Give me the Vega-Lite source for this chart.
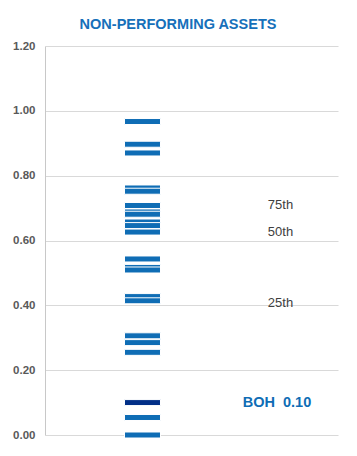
{
  "$schema": "https://vega.github.io/schema/vega-lite/v6.json",
  "width": 293,
  "height": 389,
  "autosize": {"type": "none"},
  "padding": {"left": 45, "top": 46, "right": 19, "bottom": 21},
  "background": "white",
  "title": {"text": "NON-PERFORMING ASSETS", "font": "Liberation Sans", "fontSize": 14.5, "fontWeight": "bold", "color": "#1670ba", "anchor": "middle", "dx": -13.5, "offset": 8},
  "config": {"view": {"stroke": null}, "font": "Liberation Sans"},
  "data": {"values": [
    {"bank": "Peer", "npa": 0.967},
    {"bank": "Peer", "npa": 0.897},
    {"bank": "Peer", "npa": 0.870},
    {"bank": "Peer", "npa": 0.762},
    {"bank": "Peer", "npa": 0.752},
    {"bank": "Peer", "npa": 0.708},
    {"bank": "Peer", "npa": 0.688},
    {"bank": "Peer", "npa": 0.681},
    {"bank": "Peer", "npa": 0.657},
    {"bank": "Peer", "npa": 0.646},
    {"bank": "Peer", "npa": 0.626},
    {"bank": "Peer", "npa": 0.543},
    {"bank": "Peer", "npa": 0.517},
    {"bank": "Peer", "npa": 0.509},
    {"bank": "Peer", "npa": 0.427},
    {"bank": "Peer", "npa": 0.414},
    {"bank": "Peer", "npa": 0.306},
    {"bank": "Peer", "npa": 0.285},
    {"bank": "Peer", "npa": 0.255},
    {"bank": "Peer", "npa": 0.054},
    {"bank": "Peer", "npa": 0.0},
    {"bank": "BOH", "npa": 0.10}
  ]},
  "layer": [
    {
      "mark": {"type": "tick", "orient": "horizontal", "thickness": 6, "size": 36, "stroke": "white", "strokeWidth": 1, "opacity": 1},
      "encoding": {
        "x": {"datum": "Peers", "type": "nominal", "scale": {"type": "point", "domain": ["Peers", "Labels"], "padding": 0.5616, "align": 0.629}, "axis": null},
        "y": {"field": "npa", "type": "quantitative", "scale": {"domain": [0, 1.2], "nice": false},
          "axis": {"values": [0, 0.2, 0.4, 0.6, 0.8, 1.0, 1.2], "format": ".2f", "title": null, "ticks": false, "labelPadding": 10, "labelFontSize": 11.5, "labelFontWeight": "bold", "labelColor": "#595959", "labelFont": "Liberation Sans", "gridColor": "#d9d9d9", "domainColor": "#c8c8c8"}},
        "color": {"condition": {"test": "datum.bank === 'BOH'", "value": "#012f87"}, "value": "#0f6db5"}
      }
    },
    {
      "data": {"values": [
        {"pct": "75th", "value": 0.711},
        {"pct": "50th", "value": 0.627},
        {"pct": "25th", "value": 0.406}
      ]},
      "mark": {"type": "text", "fontSize": 13, "color": "#404040", "font": "Liberation Sans"},
      "encoding": {
        "x": {"datum": "Labels", "type": "nominal"},
        "y": {"field": "value", "type": "quantitative"},
        "text": {"field": "pct"}
      }
    },
    {
      "transform": [
        {"filter": "datum.bank === 'BOH'"},
        {"calculate": "datum.bank + '\u00a0\u00a0' + format(datum.npa, '.2f')", "as": "label"}
      ],
      "mark": {"type": "text", "fontSize": 14.5, "fontWeight": "bold", "color": "#0f6db5", "dx": -3.5, "font": "Liberation Sans"},
      "encoding": {
        "x": {"datum": "Labels", "type": "nominal"},
        "y": {"field": "npa", "type": "quantitative"},
        "text": {"field": "label"}
      }
    }
  ]
}
